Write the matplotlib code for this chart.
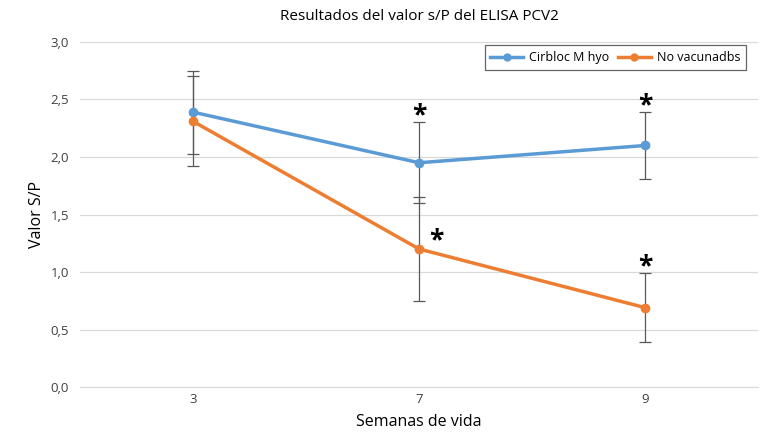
import matplotlib
matplotlib.use('Agg')
import matplotlib.pyplot as plt
from matplotlib.lines import Line2D
import numpy as np

plt.rcParams['font.family'] = ['Open Sans', 'DejaVu Sans']

weeks = ['3', '7', '9']
cirbloc = [2.39, 1.95, 2.10]
cirbloc_err = [0.36, 0.35, 0.29]
no_vac = [2.31, 1.20, 0.69]
no_vac_err = [0.39, 0.45, 0.30]
y_ticks = [0.0, 0.5, 1.0, 1.5, 2.0, 2.5, 3.0]
y_labels = ['0,0', '0,5', '1,0', '1,5', '2,0', '2,5', '3,0']
# puntos con diferencia significativa (serie, indice)
stars = [('cirbloc', 1), ('cirbloc', 2), ('no_vac', 1), ('no_vac', 2)]

blue = '#5B9BD5'
orange = '#ED7D31'
grey = '#595959'

fig = plt.figure(figsize=(7.8, 4.42), dpi=100)
ax = fig.add_axes([0.1026, 0.1244, 0.8694, 0.7806])

x = np.arange(len(weeks))

ax.errorbar(x, cirbloc, yerr=cirbloc_err, color=blue, lw=2.5, marker='o', ms=6,
            ecolor=grey, elinewidth=0.9, capsize=4, capthick=0.9, label='Cirbloc M hyo', zorder=3)
ax.errorbar(x, no_vac, yerr=no_vac_err, color=orange, lw=2.5, marker='o', ms=6,
            ecolor=grey, elinewidth=0.9, capsize=4, capthick=0.9, label='No vacunadbs', zorder=3)

series = {'cirbloc': (cirbloc, cirbloc_err), 'no_vac': (no_vac, no_vac_err)}
for name, i in stars:
    vals, errs = series[name]
    if name == 'no_vac' and i == 1:
        ax.text(x[i] + 0.075, vals[i] - 0.05, '*', fontsize=19, fontweight='bold',
                ha='center', va='bottom', color='black')
    else:
        ax.text(x[i], vals[i] + errs[i] - 0.06, '*', fontsize=19, fontweight='bold',
                ha='center', va='bottom', color='black')

ax.set_xlim(-0.5, len(weeks) - 0.5)
ax.set_ylim(0, 3.0)
ax.set_xticks(x)
ax.set_xticklabels(weeks, fontsize=9.5)
ax.set_yticks(y_ticks)
ax.set_yticklabels(y_labels, fontsize=9.5)
ax.tick_params(axis='x', length=0, pad=4, colors='#404040')
ax.tick_params(axis='y', length=0, pad=8, colors='#404040')
ax.grid(axis='y', color='#D9D9D9', lw=0.9)
ax.set_axisbelow(True)
for s in ['top', 'right', 'left']:
    ax.spines[s].set_visible(False)
ax.spines['bottom'].set_color('#D9D9D9')

ax.set_title('Resultados del valor s/P del ELISA PCV2', fontsize=11, pad=16)
ax.set_xlabel('Semanas de vida', fontsize=11.5, labelpad=6)
ax.set_ylabel('Valor S/P', fontsize=11.5, labelpad=4)

handles, labels = ax.get_legend_handles_labels()
handles = [Line2D([], [], color=blue, lw=2.5, marker='o', ms=5),
           Line2D([], [], color=orange, lw=2.5, marker='o', ms=5)]
leg = ax.legend(handles, labels, loc='upper right', bbox_to_anchor=(0.982, 0.99),
                borderaxespad=0, ncol=2, fontsize=9, frameon=True, fancybox=False,
                borderpad=0.45, handlelength=2.6, columnspacing=0.7, handletextpad=0.5)
leg.get_frame().set_edgecolor('#404040')
leg.get_frame().set_linewidth(0.9)

fig.savefig('out.png', dpi=100)
